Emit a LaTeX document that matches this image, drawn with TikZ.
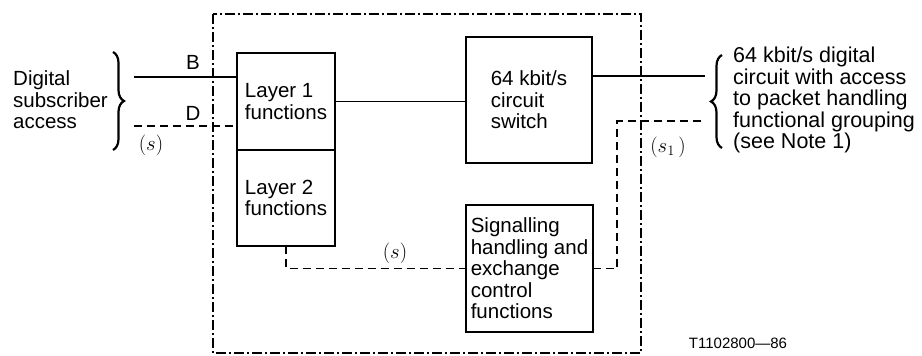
\documentclass[tikz,border=0pt]{standalone}
\usepackage{fontspec}
\setmainfont{Liberation Sans}
\usetikzlibrary{decorations.pathreplacing}

\begin{document}
\begin{tikzpicture}[x=1pt,y=-1pt,
  line/.style={line width=1.8pt},
  sig/.style={line width=1.8pt, dash pattern=on 8pt off 5pt},
  outer/.style={line width=1.8pt, dash pattern=on 10pt off 3pt on 2pt off 3pt},
  fbox/.style={draw, line width=1.8pt, inner sep=0pt, outer sep=0pt, align=left, font=\fontsize{20.5}{21.5}\selectfont},
  txt/.style={inner sep=0pt, align=left, font=\fontsize{20.5}{21.5}\selectfont},
  brc/.style={line width=2.2pt, decorate, decoration={brace, amplitude=11pt}}]

\useasboundingbox (0,0) rectangle (922,356);

% Draw the exchange boundary
\draw[outer] (213,14) rectangle (641,353);

% Functional blocks
\node[fbox, minimum width=98pt, minimum height=97pt] (l1) at (286,101.5) {Layer 1\\functions};
\node[fbox, minimum width=98pt, minimum height=96pt, anchor=north] (l2) at (l1.south) {Layer 2\\functions};
\node[fbox, minimum width=126pt, minimum height=126pt] (sw) at (529,100) {64 kbit/s\\circuit\\switch};
\node[fbox, minimum width=127pt, minimum height=127pt] (sg) at (529.5,268.5) {Signalling\\handling and\\exchange\\control\\functions};

% Subscriber side
\coordinate (bin) at (134,77);
\coordinate (din) at (134,126);
\draw[line] (bin) -- (bin -| l1.west);
\draw[sig] (din) -- (din -| l1.west);
\node[txt] (blab) at (193,62) {B};
\node[txt] (dlab) at (193,113) {D};
\node[txt] (slab) at (151,145) {$(s)$};

\draw[brc] (113,52) -- (113,150);
\node[txt, anchor=west] (acc) at (13,100) {Digital\\subscriber\\access};

% Circuit path
\draw[line] (l1.east) -- (l1.east -| sw.west);
\coordinate (swout) at (705,76);
\draw[line] (sw.east |- swout) -- (swout);

% Signalling paths
\draw[sig] (l2.south) |- (sg.west);
\node[txt] (s2lab) at (395,253) {$(s)$};

\coordinate (s1bend) at (617,121);
\coordinate (s1end) at (705,121);
\draw[sig] (sg.east) -| (s1bend) -- (s1end);
\node[txt] (s1lab) at (668,147) {$(s_1\,)$};

% Network side
\draw[brc] (722,148) -- (722,55);
\node[txt, anchor=west, font=\fontsize{21.5}{21.5}\selectfont] (dig) at (733,100) {64 kbit/s digital\\circuit with access\\to packet handling\\functional grouping\\(see Note 1)};

\node[inner sep=0pt, font=\fontsize{15}{15}\selectfont] (ref) at (738,343) {T1102800---86};

\end{tikzpicture}
\end{document}
